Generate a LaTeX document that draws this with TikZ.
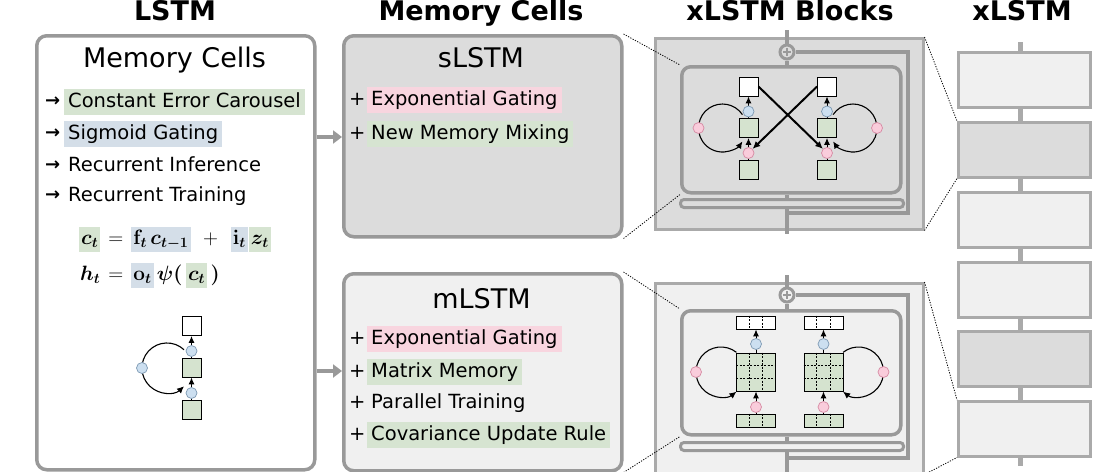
\documentclass[tikz,border=0pt]{standalone}
\usepackage[no-math]{fontspec}
\setmainfont{DejaVu Sans}
\usepackage{amsmath}
\usepackage{bm}
\usetikzlibrary{arrows.meta,calc}
\definecolor{lgray}{HTML}{999999}
\definecolor{bgray}{HTML}{AAAAAA}
\definecolor{dfill}{HTML}{DCDCDC}
\definecolor{lfill}{HTML}{F0F0F0}
\definecolor{gfill}{HTML}{D5E3CF}
\definecolor{hlgreen}{HTML}{D6E4D1}
\definecolor{hlblue}{HTML}{D4DEE8}
\definecolor{hlpink}{HTML}{F8D5DF}
\definecolor{cblue}{HTML}{CCDFF0}
\definecolor{cbluedark}{HTML}{7D99B3}
\definecolor{cpink}{HTML}{F9CCDB}
\definecolor{cpinkdark}{HTML}{D68AA3}
\newcommand{\hlbox}[2]{{\setlength{\fboxsep}{2pt}\colorbox{#1}{$\vphantom{\mathbf{f}_{\bm t}\bm{c_{t-1}}\bm{(}}#2$}}}
\newcommand{\vdiv}[1]{%
  \draw[gridl] ($(#1.north west)!1/3!(#1.north east)$) -- ($(#1.south west)!1/3!(#1.south east)$);
  \draw[gridl] ($(#1.north west)!2/3!(#1.north east)$) -- ($(#1.south west)!2/3!(#1.south east)$);}
\newcommand{\hdiv}[1]{%
  \draw[gridl] ($(#1.north west)!1/3!(#1.south west)$) -- ($(#1.north east)!1/3!(#1.south east)$);
  \draw[gridl] ($(#1.north west)!2/3!(#1.south west)$) -- ($(#1.north east)!2/3!(#1.south east)$);}
\begin{document}
\begin{tikzpicture}[x=1pt,y=-1pt, font=\fontsize{19.5}{23}\selectfont,
  title/.style={font=\fontsize{27}{32}\selectfont\bfseries, anchor=base, inner sep=0},
  ptitle/.style={font=\fontsize{27}{32}\selectfont, anchor=base, inner sep=0},
  item/.style={anchor=base west, inner xsep=4pt, inner ysep=3pt, text height=15pt, text depth=4.5pt},
  bul/.style={anchor=base west, inner sep=0},
  arrbul/.style={anchor=base west, inner sep=0, font=\fontsize{18}{20}\selectfont\bfseries},
  panel/.style={draw=lgray, line width=3.5pt, rounded corners=10pt, anchor=north west, inner sep=0},
  conn/.style={draw=lgray, line width=4pt, -{Triangle[length=9pt,width=13pt]}},
  outerbox/.style={draw=bgray, line width=2.5pt, anchor=north west, inner sep=0},
  innerbox/.style={draw=lgray, line width=3.5pt, rounded corners=9pt, anchor=north west, inner sep=0},
  pill/.style={draw=lgray, line width=3pt, rounded corners=3.5pt, anchor=north west, inner sep=0},
  res/.style={draw=lgray, line width=3.5pt},
  plus/.style={circle, draw=lgray, line width=3pt, minimum size=14pt, inner sep=0},
  wsq/.style={draw=black, line width=0.9pt, fill=white, minimum size=19pt, inner sep=0},
  gsq/.style={wsq, fill=gfill},
  bc/.style={circle, draw=cbluedark, line width=0.7pt, fill=cblue, minimum size=11pt, inner sep=0},
  pc/.style={circle, draw=cpinkdark, line width=0.7pt, fill=cpink, minimum size=11pt, inner sep=0},
  arr/.style={draw=black, line width=1pt, -{Latex[length=7pt,width=6pt]}},
  lp/.style={draw=black, line width=1.1pt, -{Latex[length=7pt,width=6.5pt]}},
  crossarr/.style={draw=black, line width=2pt, -{Latex[length=7.5pt,width=7pt]}},
  dotl/.style={draw=black, line width=0.8pt, dash pattern=on 1.2pt off 1.4pt},
  blk/.style={draw=bgray, line width=2.5pt, anchor=north west, minimum width=132pt, minimum height=55pt, inner sep=0},
  mrow/.style={draw=black, line width=0.9pt, minimum width=39pt, minimum height=13pt, inner sep=0},
  mmat/.style={draw=black, line width=0.9pt, minimum width=39pt, minimum height=38pt, inner sep=0, fill=gfill},
  gridl/.style={draw=black, line width=0.8pt, dash pattern=on 2pt off 1.5pt}
]
\useasboundingbox (0,0) rectangle (1110,471);
\fill[white] (0,0) rectangle (1110,471);

% column titles
\node[title] (t1) at (175,20.5) {LSTM};
\node[title] (t2) at (481,20.5) {Memory Cells};
\node[title] (t3) at (790,20.5) {xLSTM Blocks};
\node[title] (t4) at (1022,20.5) {xLSTM};

% panels
\node[panel, fill=white, minimum width=278pt, minimum height=434pt] (lstm) at (35,34) {};
\node[panel, fill=dfill, minimum width=278pt, minimum height=201pt] (sl) at (342,34) {};
\node[panel, fill=lfill, minimum width=278pt, minimum height=197pt] (ml) at (342,272) {};
\draw[conn] (lstm.east |- 0,137) -- (sl.west |- 0,137);
\draw[conn] (lstm.east |- 0,371) -- (ml.west |- 0,371);

% LSTM panel text
\node[ptitle] (lt) at (174.5,67) {Memory Cells};
\node[arrbul] (a1) at (45,106) {→};
\node[item, fill=hlgreen] (l1) at (64,107) {Constant Error Carousel};
\node[arrbul] (a2) at (45,138) {→};
\node[item, fill=hlblue] (l2) at (64,139) {Sigmoid Gating};
\node[arrbul] (a3) at (45,170) {→};
\node[item] (l3) at (64,171) {Recurrent Inference};
\node[arrbul] (a4) at (45,200) {→};
\node[item] (l4) at (64,201) {Recurrent Training};

\node[anchor=north west, inner sep=0, font=\fontsize{21}{25}\selectfont] (eq) at (79,227)
 {$\begin{array}{@{}r@{\mkern7mu=\mkern7mu}l@{}}
   \hlbox{hlgreen}{\bm{c_t}} & \hlbox{hlblue}{\mathbf{f}_{\bm t}\,\bm{c_{t-1}}}\mkern7mu+\mkern7mu\hlbox{hlblue}{\mathbf{i}_{\bm t}}\mkern1mu\hlbox{hlgreen}{\bm{z_t}}\\[11pt]
   \bm{h_t} & \hlbox{hlblue}{\mathbf{o}_{\bm t}}\,\bm{\psi}\bm{(}\,\hlbox{hlgreen}{\bm{c_t}}\,\bm{)}
  \end{array}$};

% LSTM small cell
\node[wsq] (ph) at (191.5,326) {};
\node[gsq] (pcl) at (191.5,367.5) {};
\node[gsq] (px) at (191.5,409.5) {};
\draw[arr] (pcl) -- (ph);
\draw[arr] (px) -- (pcl);
\node[bc] (po) at (191.5,351) {};
\node[bc] (pin) at (191.5,393) {};
\coordinate (pls) at (184,349.7);
\draw[lp] (pls) arc[start angle=47, end angle=313, radius=25pt];
\node[bc] (pf) at (142,368) {};

% sLSTM panel text
\node[ptitle] (st) at (481,67) {sLSTM};
\node[bul] (sp1) at (349,105) {+};
\node[item, fill=hlpink] (s1) at (367,105) {Exponential Gating};
\node[bul] (sp2) at (349,139) {+};
\node[item, fill=hlgreen] (s2) at (367,139) {New Memory Mixing};

% mLSTM panel text
\node[ptitle] (mt) at (481.5,308) {mLSTM};
\node[bul] (mp1) at (349,344) {+};
\node[item, fill=hlpink] (m1) at (367,344) {Exponential Gating};
\node[bul] (mp2) at (349,377) {+};
\node[item, fill=hlgreen] (m2) at (367,377) {Matrix Memory};
\node[bul] (mp3) at (349,408) {+};
\node[item] (m3) at (367,408) {Parallel Training};
\node[bul] (mp4) at (349,440) {+};
\node[item, fill=hlgreen] (m4) at (367,440) {Covariance Update Rule};

% ---------- sLSTM block ----------
\node[outerbox, fill=dfill, minimum width=268pt, minimum height=191pt] (sb) at (654,37) {};
\node[plus, fill=dfill] (spl) at (787,52) {};
\draw[lgray, line width=1.8pt] ($(spl)+(-4,0)$) -- ($(spl)+(4,0)$) ($(spl)+(0,-4)$) -- ($(spl)+(0,4)$);
\node[innerbox, minimum width=219pt, minimum height=126pt] (si) at (680,65) {};
\node[pill, minimum width=223pt, minimum height=8pt] (spill) at (679,198) {};
\coordinate (stop) at (787,30);
\coordinate (sbot) at (787,234);
\coordinate (sr1) at (908,52);
\coordinate (sr2) at (908,213);
\coordinate (sr3) at (787,213);
\draw[res] (stop) -- (spl.north);
\draw[res] (spl.south) -- (spl |- si.north);
\draw[res] (spl |- si.south) -- (spl |- spill.north);
\draw[res] (spl |- spill.south) -- (sbot);
\draw[res] (spl.east) -- (sr1) -- (sr2) -- (sr3);

% sLSTM cells
\node[wsq] (s1h) at (748.5,86.5) {};
\node[gsq] (s1c) at (748.5,128) {};
\node[gsq] (s1x) at (748.5,170) {};
\node[wsq] (s2h) at (827,86.5) {};
\node[gsq] (s2c) at (827,128) {};
\node[gsq] (s2x) at (827,170) {};
\draw[arr] (s1c) -- (s1h);
\draw[arr] (s1x) -- (s1c);
\draw[arr] (s2c) -- (s2h);
\draw[arr] (s2x) -- (s2c);
\coordinate (s1ls) at (742.4,114.6);
\coordinate (s2ls) at (833.1,114.6);
\draw[lp] (s1ls) arc[start angle=34, end angle=326, radius=24pt];
\draw[lp] (s2ls) arc[start angle=146, end angle=-146, radius=24pt];
\node[bc] (s1o) at (748.5,111.5) {};
\node[pc] (s1i) at (748.5,153) {};
\node[bc] (s2o) at (827,111.5) {};
\node[pc] (s2i) at (827,153) {};
\node[pc] (s1f) at (698.5,128) {};
\node[pc] (s2f) at (877,128) {};
\draw[crossarr] (s1h.east) -- (s2i.north west);
\draw[crossarr] (s2h.west) -- (s1i.north east);

% ---------- mLSTM block ----------
\node[outerbox, fill=lfill, minimum width=268pt, minimum height=190pt] (mb) at (654,282) {};
\node[plus, fill=lfill] (mpl) at (787,295) {};
\draw[lgray, line width=1.8pt] ($(mpl)+(-4,0)$) -- ($(mpl)+(4,0)$) ($(mpl)+(0,-4)$) -- ($(mpl)+(0,4)$);
\node[innerbox, minimum width=219pt, minimum height=124pt] (mi) at (680,309) {};
\node[pill, minimum width=223pt, minimum height=8pt] (mpill) at (679,441) {};
\coordinate (mtop) at (787,275);
\coordinate (mbot) at (787,475);
\coordinate (mr1) at (908,295);
\coordinate (mr2) at (908,458);
\coordinate (mr3) at (787,458);
\draw[res] (mtop) -- (mpl.north);
\draw[res] (mpl.south) -- (mpl |- mi.north);
\draw[res] (mpl |- mi.south) -- (mpl |- mpill.north);
\draw[res] (mpl |- mpill.south) -- (mbot);
\draw[res] (mpl.east) -- (mr1) -- (mr2) -- (mr3);

% mLSTM cells
\node[mrow, fill=white] (m1h) at (756,322.5) {};
\node[mmat] (m1c) at (756,372) {};
\node[mrow, fill=gfill] (m1x) at (756,420.5) {};
\node[mrow, fill=white] (m2h) at (823.5,322.5) {};
\node[mmat] (m2c) at (823.5,372) {};
\node[mrow, fill=gfill] (m2x) at (823.5,420.5) {};
\vdiv{m1h}\vdiv{m1x}\vdiv{m1c}\hdiv{m1c}
\vdiv{m2h}\vdiv{m2x}\vdiv{m2c}\hdiv{m2c}
\draw[arr] (m1c) -- (m1h);
\draw[arr] (m1x) -- (m1c);
\draw[arr] (m2c) -- (m2h);
\draw[arr] (m2x) -- (m2c);
\coordinate (m1ls) at (736.4,352.3);
\coordinate (m2ls) at (843.1,352.3);
\draw[lp] (m1ls) arc[start angle=52, end angle=308, radius=25pt];
\draw[lp] (m2ls) arc[start angle=128, end angle=-128, radius=25pt];
\node[bc] (m1o) at (756,344) {};
\node[pc] (m1i) at (756,407) {};
\node[bc] (m2o) at (823.5,344) {};
\node[pc] (m2i) at (823.5,407) {};
\node[pc] (m1f) at (696,372) {};
\node[pc] (m2f) at (883.5,372) {};

% ---------- xLSTM stack ----------
\coordinate (xt) at (1020,42);
\coordinate (xb) at (1020,466);
\draw[bgray, line width=5pt] (xt) -- (xb);
\node[blk, fill=lfill] (b1) at (957,51) {};
\node[blk, fill=dfill] (b2) at (957,121) {};
\node[blk, fill=lfill] (b3) at (957,191) {};
\node[blk, fill=lfill] (b4) at (957,261) {};
\node[blk, fill=dfill] (b5) at (957,330) {};
\node[blk, fill=lfill] (b6) at (957,400) {};

% zoom lines
\draw[dotl] (sl.north east) -- (si.north west);
\draw[dotl] (sl.south east) -- (si.south west);
\draw[dotl] (ml.north east) -- (mi.north west);
\draw[dotl] (ml.south east) -- (mi.south west);
\draw[dotl] (sb.north east) -- (b2.north west);
\draw[dotl] (sb.south east) -- (b2.south west);
\draw[dotl] (mb.north east) -- (b6.north west);
\draw[dotl] (mb.south east) -- (b6.south west);
\end{tikzpicture}
\end{document}
